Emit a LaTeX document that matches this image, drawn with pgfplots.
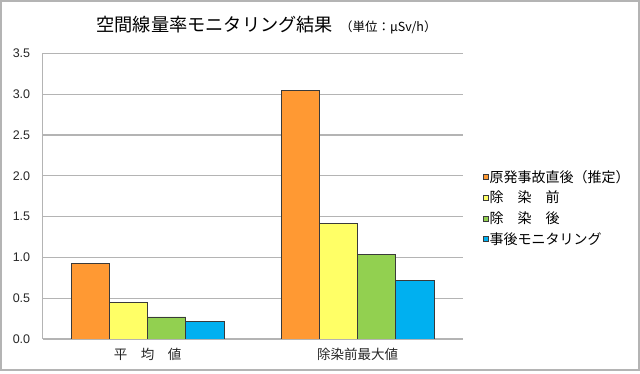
\documentclass[border=0pt]{standalone}
\usepackage{fontspec}
\usepackage{pgfplots}
\pgfplotsset{compat=1.18}
\setmainfont{Liberation Sans}
\newfontfamily\jp{Noto Sans CJK JP}
\definecolor{cA}{HTML}{FF9933}
\definecolor{cB}{HTML}{FFFF66}
\definecolor{cC}{HTML}{92D050}
\definecolor{cD}{HTML}{00B0F0}
\definecolor{edge}{HTML}{3A3A3A}
\definecolor{gridc}{HTML}{B4B4B4}
\begin{document}
\begin{tikzpicture}
\path[use as bounding box] (0pt,0pt) rectangle (640pt,374pt);
\draw[gridc, line width=1.2pt] (1pt,4pt) rectangle (639pt,373pt);
\node[anchor=base, inner sep=0pt] at (266.5pt,342pt) {{\jp\fontsize{18.2}{20}\selectfont 空間線量率モニタリング結果}\hspace{7pt}{\jp\fontsize{12.5}{14}\selectfont （単位：μSv/h）}};
\begin{axis}[
  at={(42.7pt,35pt)}, anchor=south west,
  scale only axis, width=420pt, height=285.7pt,
  xmin=-0.5, xmax=1.5, ymin=0, ymax=3.5,
  ybar=0pt, bar width=0.182,
  xtick={0,1}, xticklabels={平　均　値, 除染前最大値},
  ytick={0,0.5,...,3.5},
  yticklabel style={/pgf/number format/fixed, /pgf/number format/fixed zerofill, /pgf/number format/precision=1, xshift=-9pt},
  /pgf/number format/assume math mode=true,
  tick label style={font=\fontsize{12.5}{14}\selectfont, text=black!85},
  xticklabel style={font=\jp\fontsize{13.5}{15}\selectfont, yshift=-6pt},
  major tick length=0pt,
  axis lines*=left,
  axis line style={gridc, line width=1.2pt},
  ymajorgrids, grid style={gridc, line width=1.2pt},
  every axis plot post/.append style={draw=edge, line width=0.9pt,
    legend image code/.code={\draw[##1, line width=0.6pt] (0pt,-2.5pt) rectangle (5pt,2.5pt);}},
  legend style={at={(1.048,0.595)}, anchor=north west, draw=none, fill=none,
    inner sep=0pt, row sep=5.4pt, font=\jp\fontsize{14}{16}\selectfont,
    nodes={inner sep=1pt}},
  legend cell align=left,
]
\addplot[fill=cA] coordinates {(0,0.92) (1,3.05)};
\addplot[fill=cB] coordinates {(0,0.445) (1,1.42)};
\addplot[fill=cC] coordinates {(0,0.27) (1,1.03)};
\addplot[fill=cD] coordinates {(0,0.22) (1,0.72)};
\legend{原発事故直後（推定）, 除　染　前, 除　染　後, 事後モニタリング}
\end{axis}
\end{tikzpicture}
\end{document}
